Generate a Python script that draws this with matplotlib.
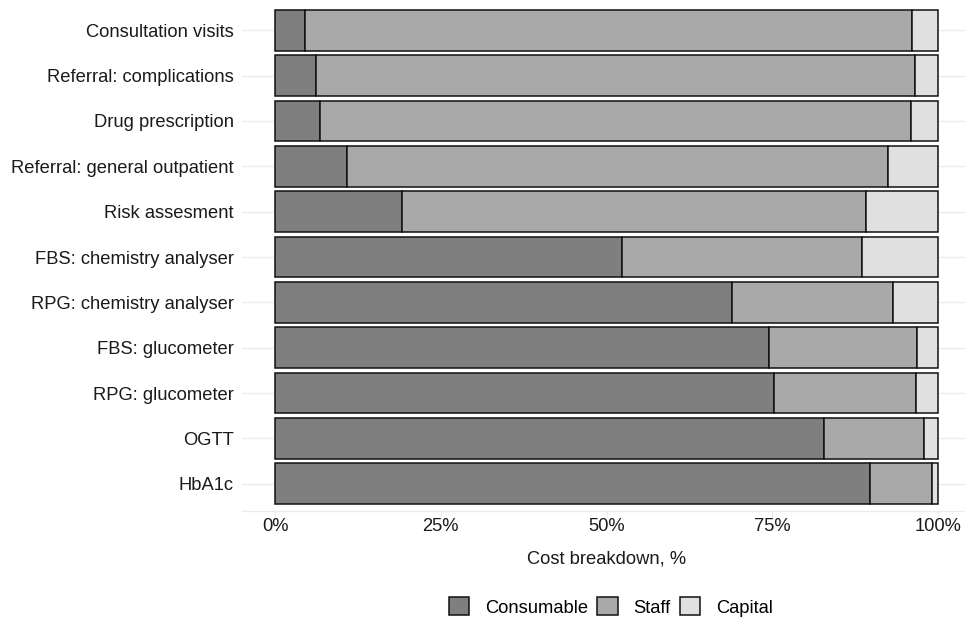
import matplotlib
matplotlib.use("Agg")
import matplotlib.pyplot as plt
from matplotlib.patches import Patch
import numpy as np

plt.rcParams['font.family'] = ['Liberation Sans', 'DejaVu Sans']

categories = ["Consultation visits", "Referral: complications", "Drug prescription",
              "Referral: general outpatient", "Risk assesment", "FBS: chemistry analyser",
              "RPG: chemistry analyser", "FBS: glucometer", "RPG: glucometer", "OGTT", "HbA1c"]
consumable = [4.5, 6.2, 6.8, 10.8, 19.1, 52.3, 68.9, 74.5, 75.3, 82.8, 89.8]
staff_end = [96.1, 96.6, 95.9, 92.5, 89.1, 88.6, 93.2, 96.9, 96.7, 97.9, 99.1]
staff = [s - c for s, c in zip(staff_end, consumable)]
capital = [100 - s for s in staff_end]
series_names = ["Consumable", "Staff", "Capital"]
colors = ["#7f7f7f", "#a9a9a9", "#e0e0e0"]
xticks = [0, 25, 50, 75, 100]
xticklabels = ["0%", "25%", "50%", "75%", "100%"]

FS = 13.2
fig = plt.figure(figsize=(9.65, 6.26), dpi=100)
ax = fig.add_axes([242/965, (626-511)/626, 729/965, 508/626])

y = np.arange(len(categories))
left = np.zeros(len(categories))
for vals, col, name in zip([consumable, staff, capital], colors, series_names):
    ax.barh(y, vals, left=left, height=0.9, color=col, edgecolor="#111111", linewidth=1.1,
            label=name, zorder=3)
    left = left + np.array(vals)

ax.set_xlim(-5, 105)
ax.set_ylim(len(categories) - 1 + 0.6, -0.6)
ax.set_yticks(y)
ax.set_yticklabels(categories, fontsize=FS, color="#1a1a1a")
ax.set_xticks(xticks)
ax.set_xticklabels(xticklabels, fontsize=FS, color="#1a1a1a")
ax.grid(True, axis="y", color="#ebebeb", linewidth=1.0, zorder=0)
ax.set_axisbelow(True)
for s in ["top", "right", "left"]:
    ax.spines[s].set_visible(False)
ax.spines["bottom"].set_color("#ebebeb")
ax.spines["bottom"].set_linewidth(1.0)
ax.tick_params(axis="y", length=0, pad=6)
ax.tick_params(axis="x", length=4, color="#ebebeb", pad=1)
ax.set_xlabel("Cost breakdown, %", fontsize=FS, color="#1a1a1a", labelpad=11)

handles = [Patch(facecolor=c, edgecolor="#111111", linewidth=1.1, label=n)
           for c, n in zip(colors, series_names)]
fig.legend(handles=handles, loc="center", bbox_to_anchor=(611/965, 1 - 607/626), ncol=3,
           frameon=False, fontsize=FS, handlelength=1.1, handleheight=1.1,
           handletextpad=0.87, columnspacing=0.5)

fig.savefig("out.png", dpi=100)
